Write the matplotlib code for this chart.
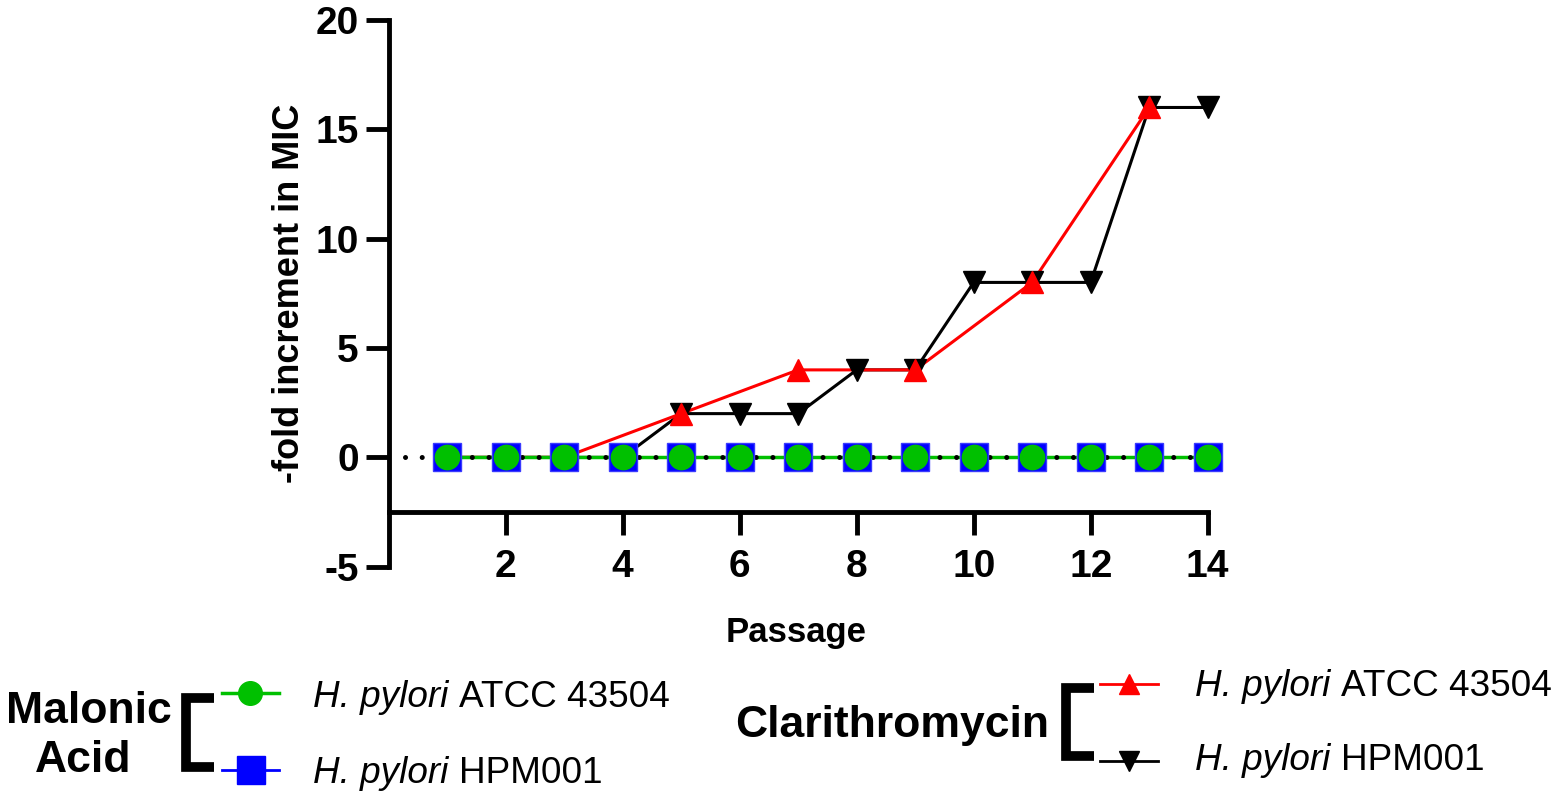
import matplotlib
matplotlib.use('Agg')
import matplotlib.pyplot as plt
from matplotlib.lines import Line2D

# data
passage = [1, 2, 3, 4, 5, 6, 7, 8, 9, 10, 11, 12, 13, 14]
malonic_atcc = [0, 0, 0, 0, 0, 0, 0, 0, 0, 0, 0, 0, 0, 0]
malonic_hpm = [0, 0, 0, 0, 0, 0, 0, 0, 0, 0, 0, 0, 0, 0]
clari_atcc_passage = [1, 3, 5, 7, 9, 11, 13]
clari_atcc = [0, 0, 2, 4, 4, 8, 16]
clari_hpm = [0, 0, 0, 0, 2, 2, 2, 4, 4, 8, 8, 8, 16, 16]

x_ticks = [2, 4, 6, 8, 10, 12, 14]
y_ticks = [-5, 0, 5, 10, 15, 20]

plt.rcParams['font.family'] = ['Liberation Sans', 'DejaVu Sans']
plt.rcParams['axes.unicode_minus'] = False

W, H = 1559, 798
fig = plt.figure(figsize=(W / 100, H / 100), dpi=100)
ax = fig.add_axes([388.7 / W, 1 - 566.7 / H, 819 / W, 546.7 / H])

GREEN = '#00C000'
BLUE = '#0000FF'
RED = '#FF0000'
BLACK = '#000000'

# lines first, markers on top
ax.plot(passage, clari_hpm, color=BLACK, lw=2.2, zorder=2, clip_on=False)
ax.plot(clari_atcc_passage, clari_atcc, color=RED, lw=2.2, zorder=2.1, clip_on=False)
ax.plot(passage, malonic_hpm, color=BLUE, lw=2, zorder=2.2, clip_on=False)
ax.plot(passage, malonic_atcc, color=GREEN, lw=2.5, zorder=2.3, clip_on=False)
ax.hlines(0, 0.28, 14, colors=BLACK, lw=3.6, linestyles=(0, (0.01, 3.33)),
          zorder=2.5, capstyle='round')

ax.plot(passage, clari_hpm, ls='none', marker='v', ms=16, color=BLACK, zorder=3, clip_on=False)
ax.plot(clari_atcc_passage, clari_atcc, ls='none', marker='^', ms=16, color=RED, zorder=3.1, clip_on=False)
ax.plot(passage, malonic_hpm, ls='none', marker='s', ms=20, color=BLUE, mec='#3a3aff',
        zorder=3.2, clip_on=False)
ax.plot(passage, malonic_atcc, ls='none', marker='o', ms=17.5, color=GREEN, zorder=3.3, clip_on=False)

ax.set_xlim(0, 14)
ax.set_ylim(-5, 20)
ax.set_xticks(x_ticks)
ax.set_yticks(y_ticks)
for s in ['top', 'right']:
    ax.spines[s].set_visible(False)
ax.spines['left'].set_bounds(-5, 20)
ax.spines['left'].set_linewidth(3.5)
ax.spines['bottom'].set_position(('data', -2.5))
ax.spines['bottom'].set_bounds(0, 14)
ax.spines['bottom'].set_linewidth(3.5)
ax.tick_params(axis='both', length=16.5, width=3.5, labelsize=28)
ax.tick_params(axis='x', pad=10)
ax.tick_params(axis='y', pad=5)
for lab in ax.get_xticklabels() + ax.get_yticklabels():
    lab.set_fontweight('bold')

ax.set_xlabel('Passage', fontsize=25, fontweight='bold', va='top')
ax.xaxis.set_label_coords(0.498, -0.09)
ax.set_ylabel('-fold increment in MIC', fontsize=26, fontweight='bold', va='bottom')
ax.yaxis.set_label_coords(-0.100, 0.5)


def fx(px):
    return px / W


def fy(py):
    return 1 - py / H


def seg(x0, x1, y, color, lw):
    fig.add_artist(Line2D([fx(x0), fx(x1)], [fy(y), fy(y)], transform=fig.transFigure,
                          color=color, lw=lw))


def mark(x, y, marker, ms, color):
    fig.add_artist(Line2D([fx(x)], [fy(y)], transform=fig.transFigure, ls='none',
                          marker=marker, ms=ms, color=color))


def bracket(x, x_arm, y0, y1):
    fig.add_artist(Line2D([fx(x_arm), fx(x), fx(x), fx(x_arm)],
                          [fy(y0), fy(y0), fy(y1), fy(y1)], transform=fig.transFigure,
                          color=BLACK, lw=7, solid_joinstyle='miter', solid_capstyle='butt'))


renderer = fig.canvas.get_renderer()


def species(x, y, strain, size=26.6):
    t = fig.text(fx(x), fy(y), 'H. pylori', fontsize=size, style='italic', va='baseline')
    bb = t.get_window_extent(renderer)
    space = 0.278 * size * 100 / 72
    fig.text(fx(bb.x1 + space), fy(y), strain, fontsize=size, va='baseline')


# legend: Malonic Acid
fig.text(fx(89), fy(723), 'Malonic', fontsize=32, fontweight='bold', ha='center', va='baseline')
fig.text(fx(83), fy(772), 'Acid', fontsize=32, fontweight='bold', ha='center', va='baseline')
bracket(186, 214, 698, 767)
seg(222, 279, 693, GREEN, 2.5)
mark(250, 693, 'o', 17, GREEN)
seg(222, 279, 770, BLUE, 2)
mark(251, 770, 's', 20, BLUE)
species(313, 707, 'ATCC 43504')
species(313, 783, 'HPM001')

# legend: Clarithromycin
fig.text(fx(735), fy(737), 'Clarithromycin', fontsize=32, fontweight='bold', ha='left', va='baseline')
bracket(1066, 1094, 688, 756)
seg(1100, 1158, 684, RED, 2)
mark(1129, 684, '^', 15, RED)
seg(1100, 1158, 761, BLACK, 2)
mark(1129, 761, 'v', 15, BLACK)
species(1195, 696, 'ATCC 43504')
species(1195, 770, 'HPM001')

fig.savefig('out.png', dpi=100)
